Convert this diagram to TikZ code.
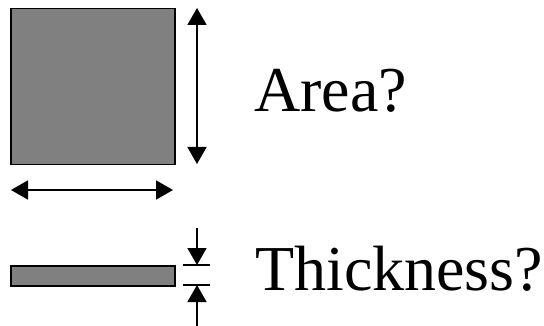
\documentclass[tikz,border=0pt]{standalone}
\usepackage{fontspec}
\setmainfont{Liberation Serif}
\usetikzlibrary{arrows.meta}

\begin{document}
\begin{tikzpicture}[x=1pt,y=-1pt,
    plate/.style={draw, fill=gray, line width=1.5pt, inner sep=0pt, anchor=north west},
    dimarrow/.style={line width=1.5pt, -{Triangle[length=17pt,width=19pt]}},
    twoarrow/.style={line width=1.5pt, {Triangle[length=17pt,width=19pt]}-{Triangle[length=17pt,width=19pt]}},
    tagtext/.style={anchor=base west, inner sep=0pt, font=\fontsize{64}{76}\selectfont}]
    \useasboundingbox (0,0) rectangle (544,326);

    % square plate and its two sides
    \node[plate, minimum width=164pt, minimum height=156pt] (square) at (10,8) {};
    \coordinate (vtop) at (197,8);
    \coordinate (vbot) at (197,164);
    \coordinate (hleft) at (11,190);
    \coordinate (hright) at (173,190);
    \draw[twoarrow] (vtop) -- (vbot);
    \draw[twoarrow] (hleft) -- (hright);
    \node[tagtext] (area) at (254,112) {Area?};

    % thin plate seen edge-on
    \node[plate, minimum width=164pt, minimum height=20pt] (bar) at (10,265) {};
    \draw[line width=2pt] (183,265) coordinate (ttop) -- (210,265);
    \draw[line width=2pt] (183,285) coordinate (tbot) -- (210,285);
    \coordinate (ain) at (197,228);
    \coordinate (atip) at (197,265);
    \coordinate (bin) at (197,326);
    \coordinate (btip) at (197,285);
    \draw[dimarrow] (ain) -- (atip);
    \draw[dimarrow] (bin) -- (btip);
    \node[tagtext] (thick) at (255,290) {Thickness?};
\end{tikzpicture}
\end{document}
